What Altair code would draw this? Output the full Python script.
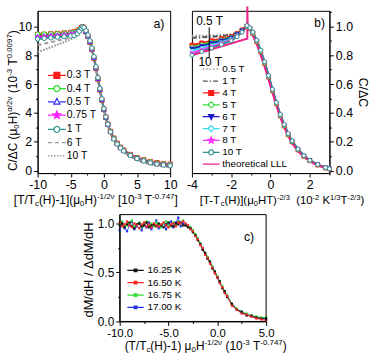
import math
import altair as alt
import pandas as pd

FONT = "Liberation Sans"

# ---------------- (a) scaled C/ΔC for several fields ----------------
A_SERIES = ["0.3 T", "0.4 T", "0.5 T", "0.75 T", "1 T", "6 T", "10 T"]
A_X = [-10, -9, -8, -7, -6, -5, -4.5, -4, -3.7, -3.4, -3.2,
       -3.0, -2.7, -2.4, -2.1, -1.8, -1.5, -1.2, -0.9, -0.6, -0.3, 0, 0.3, 0.6, 1.0, 1.5, 2, 2.5,
       3, 4, 5, 6, 7, 8, 9, 10]
A_Y_03 = [9.42, 9.44, 9.47, 9.50, 9.53, 9.57, 9.60, 9.66, 9.76, 9.90, 9.95,
          9.86, 9.62, 9.30, 8.90, 8.40, 7.80, 7.10, 6.35, 5.60, 4.90, 4.25, 3.70, 3.22, 2.72, 2.25, 1.90, 1.62,
          1.42, 1.12, 0.90, 0.75, 0.63, 0.55, 0.49, 0.45]
A_Y_04 = [9.45, 9.46, 9.47, 9.49, 9.51, 9.54, 9.57, 9.63, 9.74, 9.89, 9.95,
          9.87, 9.63, 9.31, 8.91, 8.41, 7.81, 7.11, 6.36, 5.61, 4.91, 4.26, 3.70, 3.22, 2.72, 2.24, 1.89, 1.61,
          1.41, 1.11, 0.89, 0.74, 0.62, 0.53, 0.47, 0.43]
A_Y_05 = [9.33, 9.36, 9.39, 9.42, 9.46, 9.50, 9.53, 9.60, 9.72, 9.88, 9.95,
          9.88, 9.65, 9.33, 8.93, 8.43, 7.83, 7.13, 6.38, 5.63, 4.92, 4.27, 3.71, 3.22, 2.71, 2.23, 1.88, 1.60,
          1.40, 1.10, 0.88, 0.72, 0.60, 0.51, 0.45, 0.41]
A_Y_075 = [9.25, 9.28, 9.32, 9.36, 9.40, 9.45, 9.48, 9.56, 9.70, 9.87, 9.95,
           9.89, 9.67, 9.35, 8.95, 8.45, 7.85, 7.15, 6.40, 5.65, 4.94, 4.28, 3.72, 3.22, 2.70, 2.22, 1.87, 1.59,
           1.39, 1.09, 0.87, 0.71, 0.58, 0.49, 0.43, 0.39]
A_Y_1 = [9.12, 9.16, 9.20, 9.25, 9.29, 9.33, 9.36, 9.48, 9.66, 9.86, 9.96,
         9.91, 9.70, 9.40, 9.00, 8.50, 7.90, 7.20, 6.45, 5.70, 4.98, 4.30, 3.73, 3.22, 2.69, 2.20, 1.85, 1.57,
         1.37, 1.06, 0.84, 0.68, 0.55, 0.46, 0.40, 0.35]
A_Y_6 = [8.70, 8.80, 8.90, 9.00, 9.10, 9.22, 9.30, 9.42, 9.62, 9.84, 9.93,
         9.86, 9.62, 9.30, 8.90, 8.40, 7.80, 7.10, 6.34, 5.58, 4.86, 4.20, 3.63, 3.14, 2.62, 2.13, 1.78, 1.50,
         1.32, 1.00, 0.78, 0.61, 0.48, 0.39, 0.33, 0.28]
A_Y_10 = [8.22, 8.38, 8.55, 8.72, 8.90, 9.10, 9.22, 9.38, 9.58, 9.80, 9.90,
          9.84, 9.60, 9.28, 8.88, 8.38, 7.78, 7.08, 6.32, 5.55, 4.83, 4.16, 3.58, 3.09, 2.57, 2.08, 1.73, 1.45,
          1.28, 0.96, 0.73, 0.56, 0.43, 0.34, 0.27, 0.22]

# ---------------- (b) C/ΔC against LLL scaling variable ----------------
B_SERIES = ["0.5 T", "1 T", "4 T", "5 T", "6 T", "7 T", "8 T", "10 T", "theoretical LLL"]
B_X = [-4, -3.5, -3, -2.5, -2, -1.7, -1.45, -1.2,
       -1.05, -0.9, -0.7, -0.5, -0.3, -0.1, 0.1, 0.3, 0.5, 0.7, 0.9, 1.1, 1.4, 1.7, 2.0, 2.4, 2.8, 3.0]
B_Y_05 = [0.935, 0.935, 0.936, 0.938, 0.945, 0.96, 0.98, 1.005,
          0.99, 0.955, 0.90, 0.83, 0.75, 0.655, 0.56, 0.47, 0.385, 0.315, 0.255, 0.205, 0.15, 0.105, 0.072, 0.042, 0.022, 0.014]
B_Y_1 = [0.92, 0.924, 0.928, 0.933, 0.94, 0.955, 0.977, 1.003,
         0.988, 0.953, 0.898, 0.828, 0.748, 0.653, 0.558, 0.468, 0.383, 0.313, 0.253, 0.203, 0.148, 0.103, 0.071, 0.041, 0.021, 0.013]
B_Y_4 = [0.87, 0.885, 0.90, 0.915, 0.93, 0.95, 0.975, 1.0,
         0.985, 0.95, 0.895, 0.825, 0.745, 0.65, 0.555, 0.465, 0.38, 0.31, 0.25, 0.20, 0.145, 0.10, 0.07, 0.04, 0.02, 0.013]
B_Y_5 = [0.857, 0.873, 0.89, 0.907, 0.925, 0.947, 0.972, 1.0,
         0.986, 0.951, 0.896, 0.826, 0.746, 0.651, 0.556, 0.466, 0.381, 0.311, 0.251, 0.201, 0.146, 0.101, 0.07, 0.04, 0.02, 0.013]
B_Y_6 = [0.845, 0.863, 0.882, 0.90, 0.92, 0.943, 0.97, 1.0,
         0.987, 0.953, 0.898, 0.828, 0.748, 0.653, 0.558, 0.468, 0.383, 0.313, 0.252, 0.202, 0.147, 0.102, 0.071, 0.041, 0.021, 0.013]
B_Y_7 = [0.83, 0.85, 0.87, 0.89, 0.913, 0.938, 0.967, 1.0,
         0.988, 0.955, 0.900, 0.830, 0.750, 0.655, 0.560, 0.470, 0.385, 0.315, 0.254, 0.204, 0.148, 0.103, 0.072, 0.042, 0.021, 0.014]
B_Y_8 = [0.815, 0.837, 0.86, 0.882, 0.906, 0.933, 0.963, 1.0,
         0.989, 0.957, 0.902, 0.832, 0.752, 0.657, 0.562, 0.471, 0.387, 0.317, 0.256, 0.205, 0.149, 0.104, 0.072, 0.042, 0.022, 0.014]
B_Y_10 = [0.80, 0.825, 0.85, 0.875, 0.90, 0.928, 0.96, 1.005,
          0.99, 0.96, 0.905, 0.835, 0.755, 0.66, 0.565, 0.473, 0.39, 0.32, 0.258, 0.207, 0.15, 0.105, 0.073, 0.043, 0.022, 0.014]
LLL_X = [-4, -1.18, -1.18, -1.16, -1.05, -0.9, -0.7, -0.5, -0.3, -0.1, 0.1, 0.3, 0.5, 0.7, 0.9, 1.1, 1.4, 1.7, 2.0, 2.4, 2.8, 3.0]
LLL_Y = [0.80, 0.915, 1.138, 1.0, 0.975, 0.935, 0.875, 0.80, 0.72, 0.63, 0.54, 0.45, 0.37, 0.30, 0.24, 0.19, 0.135, 0.095, 0.065, 0.037, 0.018, 0.01]

# ---------------- (c) normalised dM/dH ----------------
C_SERIES = ["16.25 K", "16.50 K", "16.75 K", "17.00 K"]
C_X = [-10, -9.75, -9.5, -9.25, -9, -8.75, -8.5, -8.25, -8, -7.75, -7.5, -7.25, -7, -6.75, -6.5,
       -6.25, -6, -5.75, -5.5, -5.25, -5, -4.75, -4.5, -4.25, -4, -3.75, -3.5,
       -3.25, -3, -2.75, -2.5, -2.25, -2, -1.75, -1.5, -1.25, -1, -0.75, -0.5, -0.25, 0, 0.25, 0.5,
       0.75, 1, 1.5, 2, 2.5, 3, 3.5, 4, 4.5, 5]
C_Y_1625 = [0.98, 1.00, 0.96, 0.99, 1.01, 0.97, 0.95, 0.99, 1.00, 0.97, 0.98, 1.01, 0.96, 0.98, 0.99,
            0.97, 1.00, 0.98, 0.96, 0.99, 1.01, 0.98, 0.97, 1.00, 0.99, 1.01, 0.98,
            0.98, 0.96, 0.95, 0.91, 0.88, 0.83, 0.79, 0.73, 0.70, 0.64, 0.61, 0.54, 0.51, 0.45, 0.41, 0.34,
            0.31, 0.25, 0.18, 0.12, 0.10, 0.06, 0.06, 0.04, 0.03, 0.03]
C_Y_1650 = [1.01, 0.97, 0.99, 1.02, 0.98, 0.96, 1.00, 0.98, 0.95, 0.99, 1.01, 0.97, 0.99, 0.96, 1.00,
            0.98, 0.97, 0.99, 1.01, 0.98, 0.96, 0.99, 1.00, 0.97, 1.01, 1.00, 1.02,
            1.00, 0.98, 0.94, 0.92, 0.87, 0.84, 0.78, 0.75, 0.68, 0.65, 0.59, 0.55, 0.49, 0.45, 0.39, 0.35,
            0.29, 0.26, 0.16, 0.12, 0.08, 0.07, 0.05, 0.03, 0.02, 0.01]
C_Y_1675 = [0.99, 1.02, 0.97, 0.98, 1.00, 1.03, 0.97, 0.99, 1.01, 0.96, 0.99, 1.02, 0.98, 1.00, 0.97,
            1.01, 0.99, 0.96, 1.00, 1.02, 0.98, 0.97, 1.01, 0.99, 1.02, 1.00, 1.03,
            0.99, 0.98, 0.96, 0.93, 0.89, 0.85, 0.80, 0.75, 0.70, 0.66, 0.61, 0.56, 0.51, 0.46, 0.41, 0.36,
            0.31, 0.27, 0.18, 0.13, 0.10, 0.08, 0.06, 0.05, 0.04, 0.04]
C_Y_1700 = [0.93, 1.00, 0.95, 0.92, 0.98, 1.02, 0.94, 0.97, 1.00, 0.93, 0.99, 0.96, 1.01, 0.94, 0.98,
            1.03, 0.95, 0.97, 1.00, 0.94, 0.99, 1.02, 0.96, 1.01, 1.06, 0.97, 1.00,
            0.98, 0.97, 0.95, 0.92, 0.88, 0.84, 0.79, 0.74, 0.69, 0.65, 0.60, 0.55, 0.50, 0.45, 0.40, 0.35,
            0.30, 0.26, 0.17, 0.12, 0.09, 0.07, 0.05, 0.04, 0.03, 0.02]

# ---------------- styling ----------------
RED, GREEN, BLUE, MAGENTA, TEAL = "#ff1a1a", "#22dd22", "#2a2aff", "#ff22ff", "#2d8f8f"
A_COLORS = [RED, GREEN, BLUE, MAGENTA, TEAL, "#9a9a9a", "#8a8a8a"]
A_MARKERS = ["square", "circle", "tri_up", "star", "circle", "none", "none"]
A_FILLS = [RED, "white", "white", MAGENTA, "white", "transparent", "transparent"]
A_DASHES = [[1, 0]] * 5 + [[4, 3], [1.5, 1.5]]

B_COLORS = ["#8c8c8c", "#555555", RED, "#33dd33", "#1a1acc", "#33ddee", "#ff33ff", TEAL, "#ee2288"]
B_MARKERS = ["none", "none", "square", "circle", "tri_down", "diamond", "star", "circle", "none"]
B_FILLS = ["transparent", "transparent", RED, "white", "#1a1acc", "white", "#ff33ff", "white", "transparent"]
B_DASHES = [[1.5, 2], [5, 2, 1.5, 2]] + [[1, 0]] * 7

C_COLORS = ["#111111", "#ff2222", "#33dd33", "#2233ee"]
C_MARKERS = ["dot", "dot", "dot", "dot"]
C_FILLS = C_COLORS
C_DASHES = [[1, 0]] * 4
C_DRAW_ORDER = ["17.00 K", "16.75 K", "16.25 K", "16.50 K"]

# panel (c) sits below, indented from panel (a)'s left edge; its cell is kept no wider
# than panel (a) so the top row keeps its own column widths
C_INDENT = 83
C_WIDTH = 148
C_CELL = 134

ONE = pd.DataFrame({"k": [0]})


def star_path(R):
    pts = []
    for i in range(10):
        ang = -math.pi / 2 + i * math.pi / 5
        rad = R if i % 2 == 0 else R * 0.45
        pts.append((rad * math.cos(ang), rad * math.sin(ang)))
    return "M" + "L".join(f"{px:.3f},{py:.3f}" for px, py in pts) + "Z"


DATA_SHAPES = {"square": "square", "circle": "circle", "tri_up": "triangle-up",
               "tri_down": "triangle-down", "diamond": "diamond", "star": star_path(1.1),
               "dot": "square"}


def glyph(kind, half, r):
    f = lambda v: f"{v:.3f}"
    line = f"M{f(-half)},0H{f(half)}"
    split = f"M{f(-half)},0H{f(-r)}M{f(r)},0H{f(half)}"
    if kind == "none":
        return line
    if kind in ("square", "dot"):
        return line + f"M{f(-r)},{f(-r)}H{f(r)}V{f(r)}H{f(-r)}Z"
    if kind == "circle":
        return split + f"M{f(r)},0A{f(r)} {f(r)} 0 1 1 {f(-r)},0A{f(r)} {f(r)} 0 1 1 {f(r)},0Z"
    if kind == "tri_up":
        return split + f"M0,{f(-1.15 * r)}L{f(1.05 * r)},{f(0.8 * r)}L{f(-1.05 * r)},{f(0.8 * r)}Z"
    if kind == "tri_down":
        return line + f"M0,{f(1.15 * r)}L{f(1.05 * r)},{f(-0.8 * r)}L{f(-1.05 * r)},{f(-0.8 * r)}Z"
    if kind == "diamond":
        return split + f"M0,{f(-1.25 * r)}L{f(1.25 * r)},0L0,{f(1.25 * r)}L{f(-1.25 * r)},0Z"
    if kind == "star":
        return line + star_path(1.35 * r)
    return line


# Arial-compatible advance widths (per 1000 em) for laying out rich axis titles
CHAR_W = {" ": 278, "(": 333, ")": 333, "[": 278, "]": 278, "/": 278, "-": 333, ".": 278,
          "C": 722, "H": 722, "K": 667, "M": 833, "T": 611, "c": 500, "d": 556,
          "μ": 576, "Δ": 668, "α": 578, "ν": 520}


def text_width(s, size):
    return sum(CHAR_W.get(ch, 556) for ch in s) * size / 1000.0


def rich_text(segments, x0, y0, size, small, angle=None):
    """Lay out a title made of normal / superscript / subscript pieces."""
    layers = []
    pos = 0.0
    for text, kind in segments:
        fs = size if kind == "n" else small
        shift = {"n": 0.0, "sup": -0.37 * size, "sub": 0.22 * size}[kind]
        body = text.lstrip(" ")
        lead = text_width(text[: len(text) - len(body)], fs)
        props = dict(text=body.rstrip(" "), font=FONT, fontSize=fs, align="left", baseline="alphabetic",
                     dx=round(pos + lead, 2), dy=round(shift, 2), color="black")
        if angle is not None:
            props["angle"] = angle
        layers.append(alt.Chart(ONE).mark_text(**props).encode(x=alt.value(x0), y=alt.value(y0)))
        pos += text_width(text, fs)
    return layers


def long_table(names, xs_list, ys_list, order=None):
    rows = []
    for name, xs, ys in zip(names, xs_list, ys_list):
        for i, (xv, yv) in enumerate(zip(xs, ys)):
            rows.append({"series": name, "x": xv, "y": yv, "idx": i})
    df = pd.DataFrame(rows)
    if order is not None:
        df["rank"] = df["series"].map({n: k for k, n in enumerate(order)})
        df = df.sort_values(["rank", "idx"]).drop(columns="rank").reset_index(drop=True)
    return df


def cond_tick(test, major, minor):
    return {"condition": {"test": test, "value": major}, "value": minor}


def curves_panel(df, names, colors, markers, fills, dashes, x, y, line_width, point_size,
                 point_stroke, legend_cfg, half, r, extra, width, height):
    lines = alt.Chart(df).mark_line(strokeWidth=line_width).encode(
        x=x, y=y,
        stroke=alt.Stroke("series:N", scale=alt.Scale(domain=names, range=colors), legend=None),
        strokeDash=alt.StrokeDash("series:N", scale=alt.Scale(domain=names, range=dashes), legend=None),
        order=alt.Order("idx:Q"),
    )
    marked = [n for n, m in zip(names, markers) if m != "none"]
    m_col = [c for c, m in zip(colors, markers) if m != "none"]
    m_fill = [f for f, m in zip(fills, markers) if m != "none"]
    m_shape = [DATA_SHAPES[m] for m in markers if m != "none"]
    points = alt.Chart(df).transform_filter(
        alt.FieldOneOfPredicate(field="series", oneOf=marked)
    ).mark_point(size=point_size, strokeWidth=point_stroke, opacity=1).encode(
        x=x, y=y,
        stroke=alt.Stroke("series:N", scale=alt.Scale(domain=marked, range=m_col), legend=None),
        fill=alt.Fill("series:N", scale=alt.Scale(domain=marked, range=m_fill), legend=None),
        shape=alt.Shape("series:N", scale=alt.Scale(domain=marked, range=m_shape), legend=None),
    )
    leg = alt.Legend(**legend_cfg)
    glyphs = [glyph(m, half, r) for m in markers]
    key = alt.Chart(df).transform_filter("false").mark_point(opacity=1, strokeWidth=1.2).encode(
        x=x, y=y,
        stroke=alt.Stroke("series:N", scale=alt.Scale(domain=names, range=colors), legend=leg),
        fill=alt.Fill("series:N", scale=alt.Scale(domain=names, range=fills), legend=leg),
        shape=alt.Shape("series:N", scale=alt.Scale(domain=names, range=glyphs), legend=leg),
        strokeDash=alt.StrokeDash("series:N", scale=alt.Scale(domain=names, range=dashes), legend=leg),
    )
    return alt.layer(lines, points, key, *extra).resolve_scale(
        stroke="independent", fill="independent", shape="independent", strokeDash="independent"
    ).properties(width=width, height=height)


def legend_cfg(lx, ly, size, fs, offset, rowpad):
    return dict(orient="none", legendX=lx, legendY=ly, title=None, symbolSize=size,
                symbolStrokeWidth=1.2, labelFont=FONT, labelFontSize=fs, labelOffset=offset,
                rowPadding=rowpad, padding=0, labelLimit=300, direction="vertical")


def axis(values, label_expr, tick_test, orient, fs, title=None, **kw):
    return alt.Axis(values=values, labelExpr=label_expr, orient=orient, title=title,
                    tickSize=cond_tick(tick_test, 4, 2), labelFontSize=fs, labelFont=FONT,
                    labelPadding=2, labelFlush=False, labelOverlap=False, grid=False,
                    domainColor="black", tickColor="black", labelColor="black", **kw)


def note(df, x, y, size):
    return alt.Chart(df).mark_text(font=FONT, fontSize=size, color="black").encode(x=x, y=y, text="t:N")


# ---------------- panel (a) ----------------
xa = alt.X("x:Q", scale=alt.Scale(domain=[-10, 10], nice=False, zero=False),
           axis=axis([-10, -7.5, -5, -2.5, 0, 2.5, 5, 7.5, 10],
                     "datum.value % 5 == 0 ? '' + datum.value : ''", "datum.value % 5 == 0", "bottom", 12.5))
ya = alt.Y("y:Q", scale=alt.Scale(domain=[-0.16, 11.07], nice=False, zero=False),
           axis=axis(list(range(0, 11)), "datum.value % 2 == 0 ? '' + datum.value : ''",
                     "datum.value % 2 == 0", "left", 12.5))
df_a = long_table(A_SERIES, [A_X] * 7, [A_Y_03, A_Y_04, A_Y_05, A_Y_075, A_Y_1, A_Y_6, A_Y_10])
A_XTITLE = [("[T/T", "n"), ("c", "sub"), ("(H)-1](μ", "n"), ("0", "sub"), ("H)", "n"), ("-1/2ν", "sup"),
            (" [10", "n"), ("-3", "sup"), (" T", "n"), ("-0.747", "sup"), ("]", "n")]
A_YTITLE = [("C/ΔC (μ", "n"), ("0", "sub"), ("H)", "n"), ("α/2ν", "sup"), (" (10", "n"), ("-3", "sup"),
            (" T", "n"), ("0.0097", "sup"), (")", "n")]
a_extra = [note(pd.DataFrame({"x": [8.3], "y": [10.15], "t": ["a)"]}), xa, ya, 12.5)]
a_extra += rich_text(A_XTITLE, -24, 195, 12, 8)
a_extra += rich_text(A_YTITLE, -21, 162, 12, 8, angle=270)
panel_a = curves_panel(df_a, A_SERIES, A_COLORS, A_MARKERS, A_FILLS, A_DASHES, xa, ya,
                       2.0, 20, 1.0, legend_cfg(12, 57.7, 169, 10.5, 2.5, 0.4), 1.38, 0.46,
                       a_extra, 134, 164)

# ---------------- panel (b) ----------------
xb = alt.X("x:Q", scale=alt.Scale(domain=[-4, 3], nice=False, zero=False),
           axis=axis([-4, -3, -2, -1, 0, 1, 2, 3], "datum.value % 2 == 0 ? '' + datum.value : ''",
                     "datum.value % 2 == 0", "bottom", 12.5))
yb = alt.Y("y:Q", scale=alt.Scale(domain=[-0.016, 1.1075], nice=False, zero=False),
           axis=axis([0, 0.1, 0.2, 0.3, 0.4, 0.5, 0.6, 0.7, 0.8, 0.9, 1.0, 1.1],
                     "round(datum.value * 10) % 2 == 0 ? format(datum.value, '.1f') : ''",
                     "round(datum.value * 10) % 2 == 0", "right", 12.5, title="C/ΔC",
                     titleFont=FONT, titleFontSize=12.5, titleFontWeight="normal", titleColor="black",
                     titlePadding=3))
df_b = long_table(B_SERIES, [B_X] * 8 + [LLL_X],
                  [B_Y_05, B_Y_1, B_Y_4, B_Y_5, B_Y_6, B_Y_7, B_Y_8, B_Y_10, LLL_Y])
B_XTITLE = [("[T-T", "n"), ("c", "sub"), ("(H)](μ", "n"), ("0", "sub"), ("HT)", "n"), ("-2/3", "sup"),
            ("  (10", "n"), ("-2", "sup"), (" K", "n"), ("1/3", "sup"), ("T", "n"), ("-2/3", "sup"), (")", "n")]
b_notes = pd.DataFrame({"x": [-3.1, -3.07, 2.5], "y": [1.039, 0.753, 1.02], "t": ["0.5 T", "10 T", "b)"]})
b_arrow = pd.DataFrame({"x": [-3.12], "y": [0.993], "y2": [0.787]})
b_extra = [
    note(b_notes, xb, yb, 12),
    alt.Chart(b_arrow).mark_rule(color="black", strokeWidth=1).encode(x=xb, y=yb, y2="y2:Q"),
]
b_extra += rich_text(B_XTITLE, 8, 195, 11.5, 7.6)
panel_b = curves_panel(df_b, B_SERIES, B_COLORS, B_MARKERS, B_FILLS, B_DASHES, xb, yb,
                       2.0, 16, 1.0, legend_cfg(13, 52.5, 121, 10, 4.7, -0.2), 1.55, 0.45,
                       b_extra, 139, 164)

# ---------------- panel (c) ----------------
xc = alt.X("x:Q", scale=alt.Scale(domain=[-10, 5], range=[C_INDENT, C_INDENT + C_WIDTH], nice=False, zero=False),
           axis=axis([-10, -7.5, -5, -2.5, 0, 2.5, 5],
                     "datum.value % 5 == 0 ? replace(format(datum.value, '.1f'), '\u2212', '-') : ''",
                     "datum.value % 5 == 0", "bottom", 11.5))
yc = alt.Y("y:Q", scale=alt.Scale(domain=[0, 1.09], nice=False, zero=False),
           axis=axis([0, 0.25, 0.5, 0.75, 1.0],
                     "datum.value % 0.5 == 0 ? format(datum.value, '.1f') : ''",
                     "datum.value % 0.5 == 0", "left", 12, offset=-C_INDENT))
df_c = long_table(C_SERIES, [C_X] * 4, [C_Y_1625, C_Y_1650, C_Y_1675, C_Y_1700], order=C_DRAW_ORDER)
C_XTITLE = [("(T/T", "n"), ("c", "sub"), ("(H)-1) μ", "n"), ("0", "sub"), ("H", "n"), ("-1/2ν", "sup"),
            (" (10", "n"), ("-3", "sup"), (" T", "n"), ("-0.747", "sup"), (")", "n")]
C_YTITLE = [("dM/dH / ΔdM/dH", "n")]
c_extra = [
    # plot frame of panel (c)
    alt.Chart(ONE).mark_rect(fillOpacity=0, stroke="black", strokeWidth=1).encode(
        x=alt.value(C_INDENT), x2=alt.value(C_INDENT + C_WIDTH), y=alt.value(0), y2=alt.value(108)),
    # invisible rule pinning the drawing's top-left corner
    alt.Chart(ONE).mark_rule(strokeOpacity=0, color="white").encode(
        x=alt.value(-37), x2=alt.value(-37), y=alt.value(-211), y2=alt.value(142)),
    note(pd.DataFrame({"x": [3.25], "y": [0.866], "t": ["c)"]}), xc, yc, 12.5),
]
c_extra += rich_text(C_XTITLE, C_INDENT + 5, 136.5, 12, 8)
c_extra += rich_text(C_YTITLE, C_INDENT - 26.5, 104, 13, 13, angle=270)
panel_c = curves_panel(df_c, C_SERIES, C_COLORS, C_MARKERS, C_FILLS, C_DASHES, xc, yc,
                       1.0, 5, 0, legend_cfg(C_INDENT + 9, 49.3, 144, 10, 5, 0.5), 1.38, 0.22,
                       c_extra, C_CELL, 108).properties(view=alt.ViewBackground(stroke="transparent"))

chart = alt.concat(
    panel_a, panel_b, panel_c,
    columns=2, spacing={"row": 42, "column": 22}, bounds="flush", align="none",
).resolve_scale(
    stroke="independent", fill="independent", shape="independent", strokeDash="independent"
).properties(padding=0, background="white").configure_view(stroke="black", strokeWidth=1)

chart.save("out.html", embed_options={"renderer": "svg", "actions": False})
